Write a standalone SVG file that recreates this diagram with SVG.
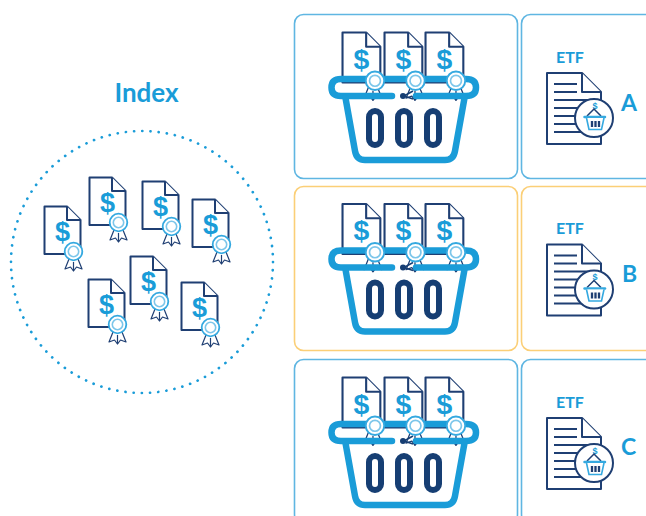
<svg xmlns="http://www.w3.org/2000/svg" width="646" height="516" viewBox="0 0 646 516">
<style>
.card{fill:#fff;stroke-width:1.6}
.bl{stroke:#5fb6e2}.or{stroke:#fbcf77}
.d{fill:#fff;stroke:#1f3f73;stroke-width:2;stroke-linejoin:round}
.dol{font-family:"Liberation Sans",sans-serif;font-weight:700;fill:#1a9cd8;text-anchor:middle}
.t{font-family:Lato,"Liberation Sans",sans-serif;font-weight:700;fill:#1a9cd8}
.rim{fill:none;stroke:#1a9cd8;stroke-width:6.500;stroke-linecap:round;stroke-linejoin:round}
.slot{fill:none;stroke:#163e73;stroke-width:6}
.ln{stroke:#1f3f73;stroke-width:1.800}
.rib{fill:#fff;stroke:#1f3f73;stroke-width:1.200;stroke-linejoin:round}
</style>
<defs>
<g id="doc">
<path class="d" d="M0.500 0.500H23L36.500 14V48H0.500Z"/>
<path class="d" d="M23 0.500V14H36.500" fill="none"/>
<text class="dol" x="18.500" y="35" font-size="27">$</text>
</g>
<g id="ribbon">
<path class="rib" d="M25 53L21 63L26.500 61L29.500 65L32.500 61L38 63L34 53Z"/>
<path class="rib" d="M29.500 56V65"/>
</g>
<g id="seal">
<circle cx="29.500" cy="45.500" r="8.800" fill="#fff" stroke="#35a9e0" stroke-width="1.800"/>
<circle cx="29.500" cy="45.500" r="5.200" fill="#fff" stroke="#7cc6ea" stroke-width="1.600"/>
</g>
<g id="cert"><use href="#doc"/><use href="#ribbon"/><use href="#seal"/></g>
<g id="basket">
<g transform="translate(342 32) scale(1.050)"><use href="#doc"/><use href="#ribbon"/></g>
<g transform="translate(384 32) scale(1.050)"><use href="#doc"/><use href="#ribbon"/></g>
<g transform="translate(425 32) scale(1.050)"><use href="#doc"/><use href="#ribbon"/></g>
<path class="rim" d="M392 96H341Q331.500 96 331.500 87.500Q331.500 79 341 79H466Q476 79 476 87.500Q476 96 466 96H416"/>
<path class="rim" d="M345.500 98L355 151Q356.500 160 365 160H445Q453.500 160 455 151L464.500 98"/>
<path d="M404 96L413 91M404 96L413 99" stroke="#163e73" stroke-width="1.500" fill="none"/>
<circle cx="403" cy="96" r="3" fill="#163e73"/>
<g transform="translate(344 33) scale(1.050)"><use href="#seal"/></g>
<g transform="translate(384.500 33) scale(1.050)"><use href="#seal"/></g>
<g transform="translate(425 33) scale(1.050)"><use href="#seal"/></g>
<rect class="slot" x="369" y="111" width="12" height="34" rx="6"/>
<rect class="slot" x="398" y="111" width="12" height="34" rx="6"/>
<rect class="slot" x="427" y="111" width="12" height="34" rx="6"/>
</g>
<g id="etfdoc">
<path class="d" d="M547 73H582L601 92V144H547Z"/>
<path class="d" d="M582 73V92H601" fill="none"/>
<path class="ln" d="M554 84H577M554 92H577M554 100H590M554 108H590M554 116H590M554 124H590M554 132H590"/>
<circle cx="594" cy="118" r="19" fill="#fff" stroke="#1f3f73" stroke-width="2"/>
<text class="dol" x="595" y="108.500" font-size="9">$</text>
<path d="M587 116l7-7 7 7" fill="none" stroke="#1f3f73" stroke-width="1.500"/>
<path d="M584.500 117H605" stroke="#35a9e0" stroke-width="2.500" stroke-linecap="round"/>
<path d="M586.500 118L589 129.500H601.500L604 118" fill="#fff" stroke="#35a9e0" stroke-width="1.600"/>
<path d="M592 121v6M595.500 121v6M599 121v6" stroke="#1f3f73" stroke-width="2.300"/>
</g>
</defs>
<rect width="646" height="516" fill="#fff"/>
<g id="index">
<text class="t" x="146.500" y="102" font-size="26" text-anchor="middle">Index</text>
<circle cx="142" cy="262" r="131" fill="none" stroke="#1a9cd8" stroke-width="2.700" stroke-dasharray="0.100 8.131" stroke-linecap="round"/>
<use href="#cert" x="44" y="206"/>
<use href="#cert" x="89" y="177"/>
<use href="#cert" x="142" y="181"/>
<use href="#cert" x="192" y="199"/>
<use href="#cert" x="88" y="279"/>
<use href="#cert" x="130" y="256"/>
<use href="#cert" x="181" y="282"/>
</g>
<g id="connectors"/>
<g id="basket-a"><rect class="card bl" x="294.500" y="14.500" width="223" height="164" rx="9"/><use href="#basket"/></g>
<g id="etf-a"><rect class="card bl" x="521.500" y="14.500" width="140" height="164" rx="9"/><text class="t" x="556" y="62.500" font-size="16">ETF</text><use href="#etfdoc"/><text class="t" x="621" y="111" font-size="23">A</text></g>
<g id="basket-b"><rect class="card or" x="294.500" y="186.500" width="223" height="164" rx="9"/><use href="#basket" y="171.500"/></g>
<g id="etf-b"><rect class="card or" x="521.500" y="186.500" width="140" height="164" rx="9"/><text class="t" x="556" y="234" font-size="16">ETF</text><use href="#etfdoc" y="171.500"/><text class="t" x="622" y="282" font-size="23">B</text></g>
<g id="basket-c"><rect class="card bl" x="294.500" y="359.500" width="223" height="164" rx="9"/><use href="#basket" y="345"/></g>
<g id="etf-c"><rect class="card bl" x="521.500" y="359.500" width="140" height="164" rx="9"/><text class="t" x="556" y="407.500" font-size="16">ETF</text><use href="#etfdoc" y="345"/><text class="t" x="621" y="455" font-size="23">C</text></g>
</svg>
